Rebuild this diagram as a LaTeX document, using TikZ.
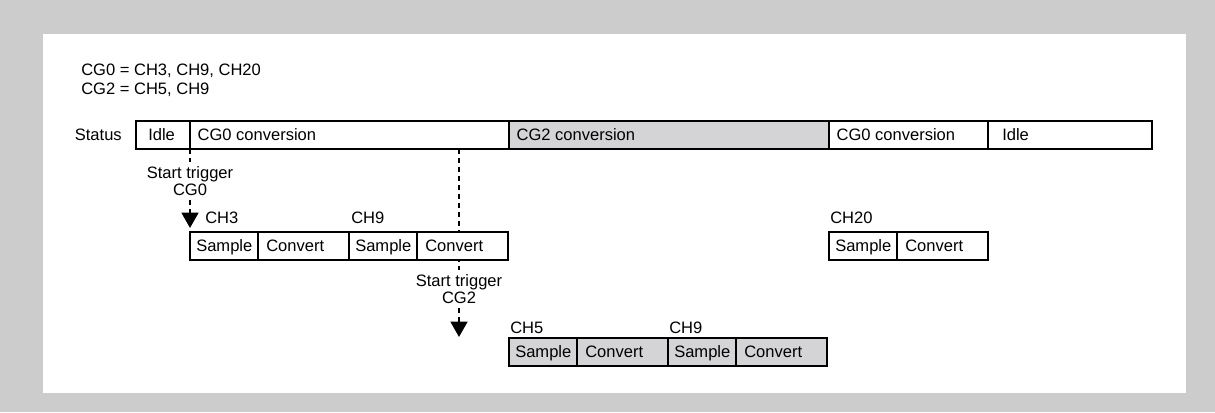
\documentclass[tikz,border=0pt]{standalone}
\usepackage{fontspec}
\setmainfont{Liberation Sans}
\usetikzlibrary{arrows.meta}
\usetikzlibrary{positioning}
\definecolor{framegray}{RGB}{204,204,204}
\definecolor{cellgray}{RGB}{212,212,214}

\begin{document}
\begin{tikzpicture}[x=0.75pt, y=-0.75pt, font=\fontsize{12.4}{12.75}\selectfont,
  >={Triangle[width=12.5pt,length=11.5pt]},
  cell/.style={draw, line width=0.9pt, fill=white, minimum width={#1*0.75pt},
    minimum height=21pt, inner sep=0pt, outer sep=0pt, anchor=north west},
  txt/.style={anchor=base west, inner sep=0pt, xshift=#1, yshift=-4.4pt},
  chname/.style={anchor=base west, inner sep=0pt},
  trig/.style={line width=1.9pt, dash pattern=on 3.75pt off 3pt},
  triglbl/.style={align=center, inner sep=0pt, anchor=north}]
  % one channel slot: sample cell + convert cell, top left at (#2), fill #3
  \newcommand{\chslot}[3]{%
    \node[cell=68, fill=#3, label={[txt=4.5pt]west:Sample}] (#1s) at (#2) {};
    \node[cell=91, fill=#3, label={[txt=6pt]west:Convert}] (#1c) at (#1s.north east) {};
  }
  \useasboundingbox (0,0) rectangle (1215,412);
  \fill[framegray] (0,0) rectangle (1215,412);
  \fill[white] (43,34) rectangle (1186,393);
  % groups
  \node[chname] (cg0def) at (81,75) {CG0 = CH3, CH9, CH20};
  \node[chname] (cg2def) at (81,94.5) {CG2 = CH5, CH9};
  % ---------------------------------------------------------------- status bar
  \node[cell=54, label={[txt=9pt]west:Idle}] (st0) at (136,121) {};
  \node[cell=319, label={[txt=5.5pt]west:CG0 conversion}] (st1) at (st0.north east) {};
  \node[cell=320, fill=cellgray, label={[txt=5.5pt]west:CG2 conversion}] (st2) at (st1.north east) {};
  \node[cell=159, label={[txt=5.5pt]west:CG0 conversion}] (st3) at (st2.north east) {};
  \node[cell=164, label={[txt=10.5pt]west:Idle}] (st4) at (st3.north east) {};
  \node[left=10.5pt of st0, inner sep=0pt] (status) {Status};
  % ---------------------------------------------------------------- triggers
  \node[triglbl] (trig0) at (190,166) {Start trigger\\CG0};
  \node[triglbl] (trig2) at (459,274) {Start trigger\\CG2};
  % the CG2 trigger runs behind the CG0 row
  \draw[trig, shorten >=3pt] (trig2 |- st1.south) -- (trig2.north);
  % ---------------------------------------------------------------- CG0 scan
  \chslot{ch3}{190,232}{white}
  \chslot{ch9a}{ch3c.north east}{white}
  \chslot{ch20}{829,232}{white}
  \node[chname] (ch3lbl) at (205,223) {CH3};
  \node[chname] (ch9albl) at (351,223) {CH9};
  \node[chname] (ch20lbl) at (830,223) {CH20};
  % ---------------------------------------------------------------- CG2 scan
  \chslot{ch5}{509,338}{cellgray}
  \chslot{ch9b}{ch5c.north east}{cellgray}
  \node[chname] (ch5lbl) at (510,333) {CH5};
  \node[chname] (ch9blbl) at (669,333) {CH9};
  % trigger arrows
  \draw[trig, shorten >=3pt] (trig0 |- st0.south) -- (trig0.north);
  \draw[trig, ->, shorten <=3.5pt, shorten >=3pt] (trig0.south) -- (trig0 |- ch3s.north);
  \draw[trig, ->, shorten <=3.5pt, shorten >=0.75pt] (trig2.south) -- (trig2 |- ch5s.north);
\end{tikzpicture}
\end{document}
